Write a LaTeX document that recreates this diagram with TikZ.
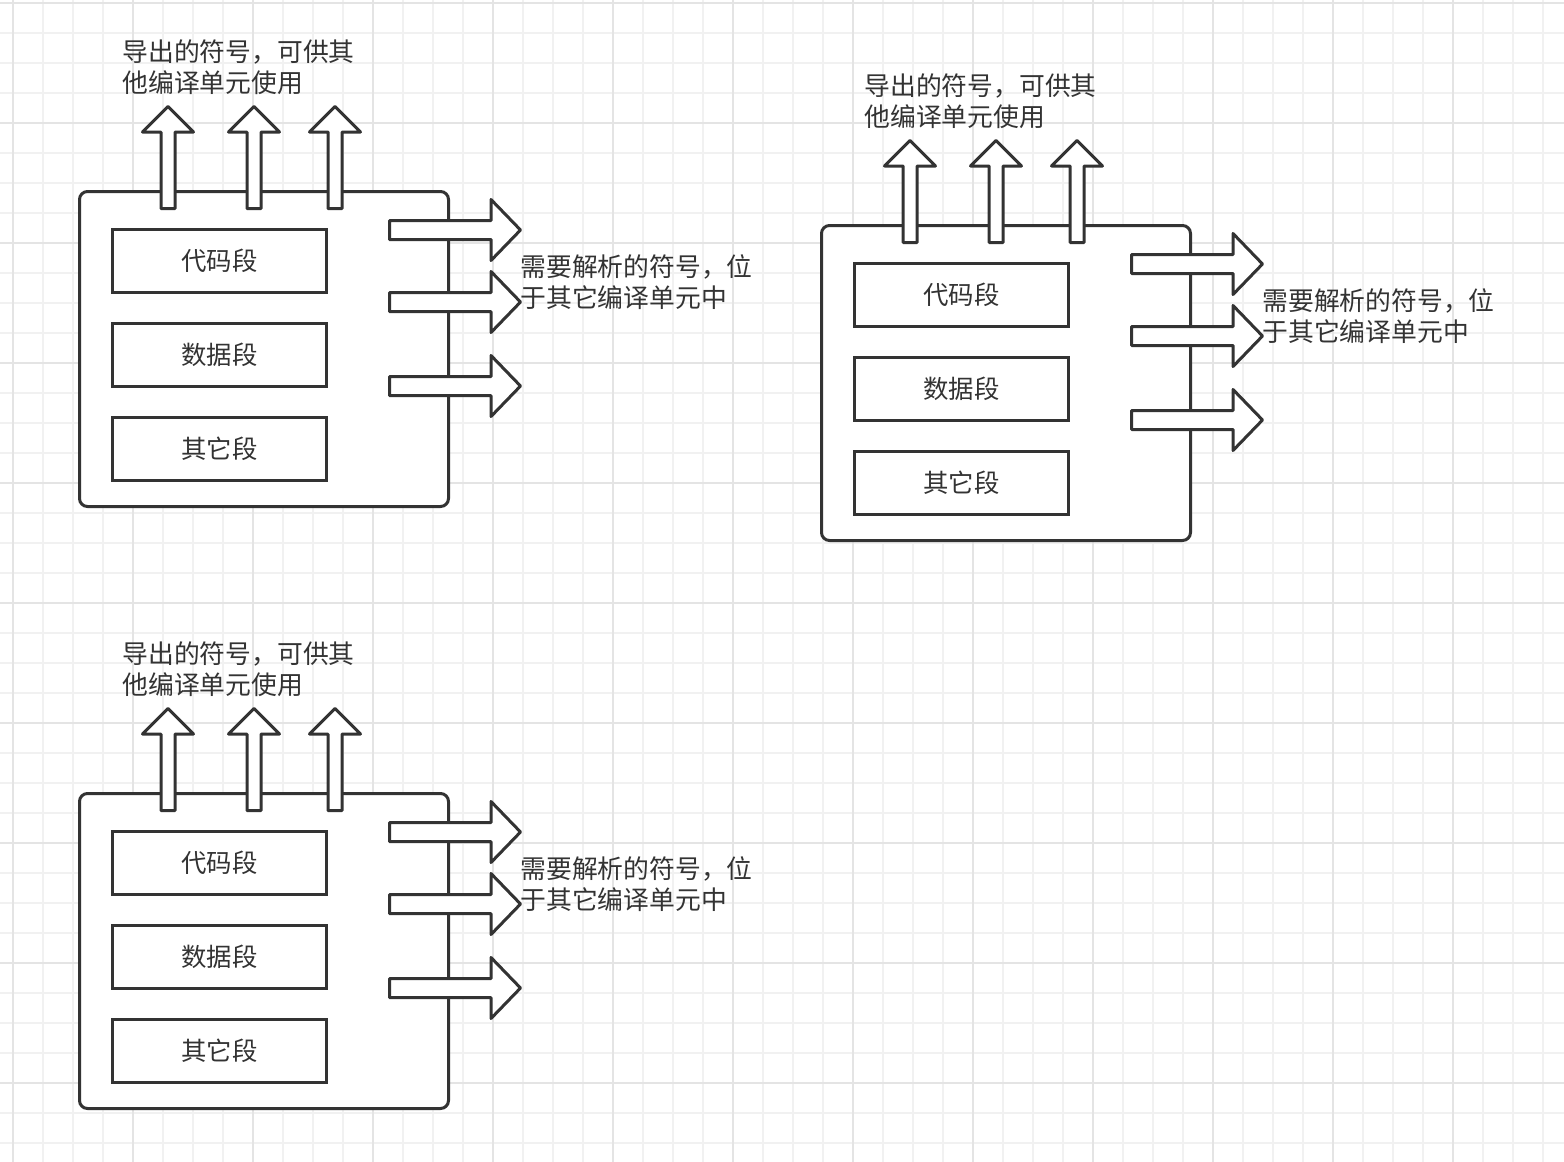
\documentclass[tikz,border=0pt]{standalone}
\usepackage{fontspec}
\newfontfamily\cjk{Noto Sans CJK SC}
\definecolor{ink}{HTML}{333333}
\definecolor{gridminor}{HTML}{F1F1F1}
\definecolor{gridmajor}{HTML}{E4E4E4}
\tikzset{
  unitbox/.style={draw=ink,line width=1.5pt,fill=white,rounded corners=4pt},
  segbox/.style={draw=ink,line width=1.5pt,fill=white,minimum width=107pt,minimum height=31.5pt,
    font=\cjk\fontsize{12.7}{15}\selectfont,text=ink},
  blockarrow/.style={draw=ink,line width=1.5pt,fill=white,line join=round},
  note/.style={font=\cjk\fontsize{12.9}{15.5}\selectfont,text=ink,align=left,inner sep=0pt,anchor=west}
}
\begin{document}
\begin{tikzpicture}[x=0.5pt,y=-0.5pt]
  \useasboundingbox (0,0) rectangle (1564,1162);
  \fill[white] (0,0) rectangle (1564,1162);
  % background grid
  \foreach \gx in {13,43,...,1563} \draw[gridminor,line width=1pt] (\gx,0) -- (\gx,1162);
  \foreach \gy in {3,33,...,1161} \draw[gridminor,line width=1pt] (0,\gy) -- (1564,\gy);
  \foreach \gx in {13,133,...,1563} \draw[gridmajor,line width=1pt] (\gx,0) -- (\gx,1162);
  \foreach \gy in {3,123,...,1161} \draw[gridmajor,line width=1pt] (0,\gy) -- (1564,\gy);
  % three compilation units
  \foreach \dx/\dy/\u in {0/0/a,742/34/b,0/602/c}{
    \begin{scope}[shift={(\dx,\dy)}]
      \draw[unitbox] (79.5,191.5) rectangle (448.5,506.5);
      \node[segbox] (code\u) at (219.5,261) {代码段};
      \node[segbox] (data\u) at (219.5,355) {数据段};
      \node[segbox] (other\u) at (219.5,449) {其它段};
      % exported symbols
      \foreach \ax in {168,254,335}
        \draw[blockarrow,shift={(\ax,0)}] (-7,208.5) -- (-7,132) -- (-25.5,132) -- (0,106.5)
          -- (25.5,132) -- (7,132) -- (7,208.5) -- cycle;
      % undefined symbols
      \foreach \ay in {230,302,386}
        \draw[blockarrow,shift={(0,\ay)}] (389.5,-9.5) -- (491,-9.5) -- (491,-30.5) -- (520.5,0)
          -- (491,30.5) -- (491,9.5) -- (389.5,9.5) -- cycle;
      \node[note] (export\u) at (122,67.5) {导出的符号，可供其\\他编译单元使用};
      \node[note] (import\u) at (520,282.5) {需要解析的符号，位\\于其它编译单元中};
    \end{scope}
  }
\end{tikzpicture}
\end{document}
